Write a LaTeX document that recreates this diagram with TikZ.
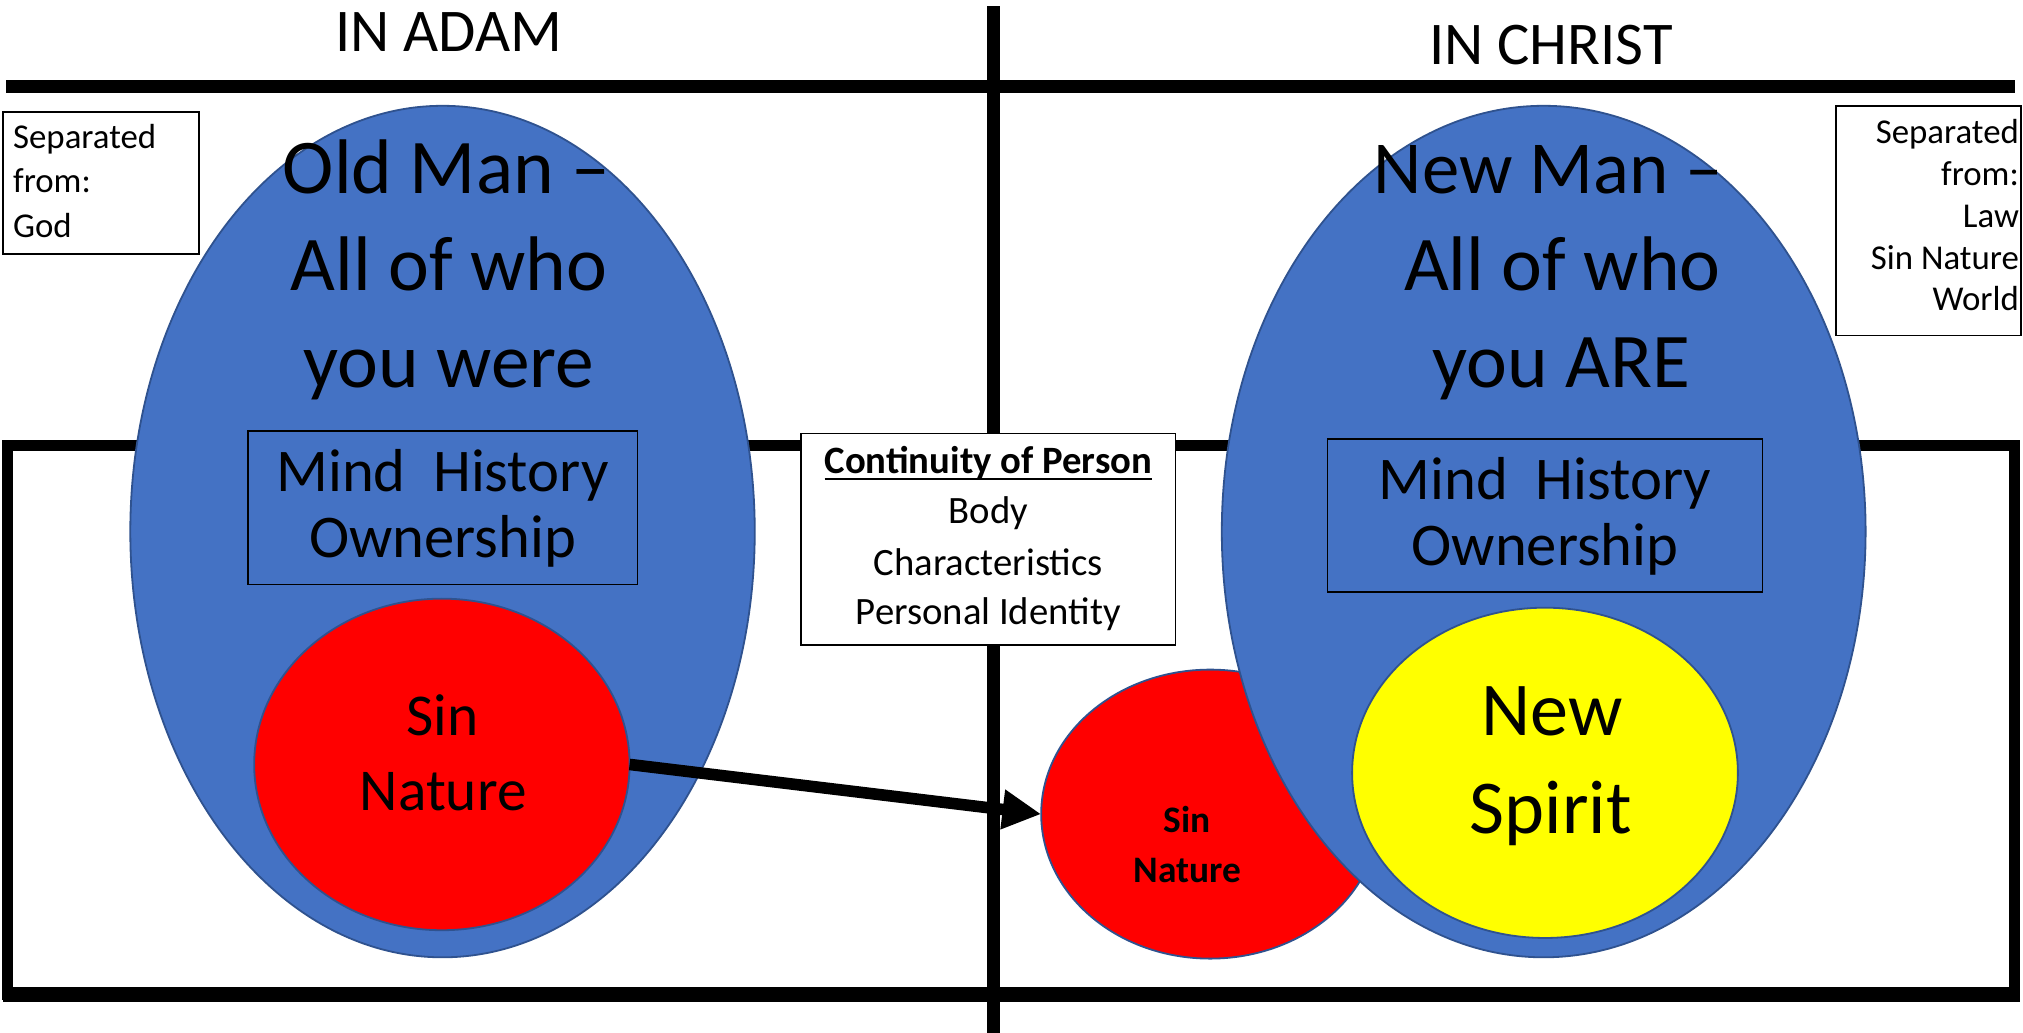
\documentclass[tikz,border=0pt]{standalone}
\usepackage{fontspec}
\setmainfont{Carlito}
\usetikzlibrary{shapes.geometric,arrows.meta}
\definecolor{oblue}{HTML}{4472C4}
\definecolor{oedge}{HTML}{2F528F}
\definecolor{ored}{HTML}{FF0000}
\definecolor{oyellow}{HTML}{FFFF00}
\newcommand\fsz[1]{\fontsize{#1}{#1}\selectfont}
\newcommand\ulbold[1]{\setbox0\hbox{#1}\rlap{\rule[-5pt]{\wd0}{1.8pt}}\box0}
\begin{document}
\begin{tikzpicture}[x=1pt,y=-1pt,
  bar/.style={line width=9.5pt,draw=black},
  oval/.style={ellipse,draw=oedge,line width=1.4pt,inner sep=0pt,outer sep=0pt},
  mhbox/.style={rectangle,draw=black,line width=1.3pt,inner sep=0pt},
  wbox/.style={rectangle,draw=black,line width=1.3pt,fill=white,inner sep=0pt},
  txt/.style={anchor=base,inner sep=0pt},
  txtl/.style={anchor=base west,inner sep=0pt},
  txtr/.style={anchor=base east,inner sep=0pt},
  conn/.style={line width=9pt,draw=black,-{Triangle[length=30pt,width=29pt]}}
]
\path[fill=white] (0,0) rectangle (1568,800.6);
\useasboundingbox (0,0) rectangle (1568,800.6);

% frame lines
\coordinate (tl) at (5,67);
\coordinate (tr) at (1562,67);
\coordinate (vt) at (770,5);
\coordinate (vb) at (770,801);
\coordinate (fa) at (6,345);
\coordinate (fb) at (1561.5,771);
\coordinate (bl) at (2,771);
\coordinate (br) at (1565.5,771);
\draw[bar] (tl) -- (tr);
\draw[bar] (vt) -- (vb);
\draw[line width=8.5pt] (fa) rectangle (fb);
\draw[line width=12pt] (bl) -- (br);

% left side
\node[oval,fill=oblue,minimum width=484pt,minimum height=660pt] (lblue) at (343,412) {};
\node[mhbox,minimum width=302pt,minimum height=119pt] (lmind) at (343,393.5) {};
\node[oval,fill=ored,minimum width=291pt,minimum height=257pt] (lred) at (342.5,592.5) {};

% right side
\node[oval,fill=ored,minimum width=262pt,minimum height=224pt] (rred) at (938,631) {};
\node[oval,fill=oblue,minimum width=499pt,minimum height=660pt] (rblue) at (1196.5,412) {};
\node[mhbox,minimum width=337pt,minimum height=119pt] (rmind) at (1197.5,399.5) {};
\node[oval,fill=oyellow,minimum width=299pt,minimum height=256pt] (yel) at (1197.5,599) {};

% middle box
\node[wbox,minimum width=290pt,minimum height=164pt] (cont) at (766,418) {};

% arrow
\draw[conn] (lred.east) -- (rred.west);

% small boxes
\node[wbox,minimum width=151.5pt,minimum height=110pt] (lsep) at (78.25,142) {};
\node[wbox,minimum width=143.5pt,minimum height=178pt] (rsep) at (1494.75,171) {};

% headings
\node[txt,font=\fsz{47}] (hadam) at (348,40) {IN ADAM};
\node[txt,font=\fsz{47}] (hchrist) at (1202,50) {IN CHRIST};

% old man
\node[txt,font=\fsz{60}] (om1) at (346,150) {Old Man --};
\node[txt,font=\fsz{60}] (om2) at (348,225) {All of who};
\node[txt,font=\fsz{60}] (om3) at (348,300) {you were};

% new man
\node[txt,font=\fsz{58}] (nm1) at (1200,150) {New Man --};
\node[txt,font=\fsz{60}] (nm2) at (1211,225) {All of who};
\node[txt,font=\fsz{60}] (nm3) at (1210,300) {you ARE};

% mind history
\node[txt,font=\fsz{47}] (lm1) at (343,381) {Mind\ \ History};
\node[txt,font=\fsz{47}] (lm2) at (343,432) {Ownership};
\node[txt,font=\fsz{47}] (rm1) at (1197.5,387) {Mind\ \ History};
\node[txt,font=\fsz{47}] (rm2) at (1197.5,438) {Ownership};

% sin nature
\node[txt,font=\fsz{46}] (ls1) at (343,570) {Sin};
\node[txt,font=\fsz{46}] (ls2) at (343.5,628) {Nature};
\node[txt,font=\fsz{29}\bfseries] (rs1) at (920,645) {Sin};
\node[txt,font=\fsz{29}\bfseries] (rs2) at (920.5,684) {Nature};

% new spirit
\node[txt,font=\fsz{59}] (ns1) at (1203,570) {New};
\node[txt,font=\fsz{59}] (ns2) at (1202,646) {Spirit};

% continuity
\node[txt,font=\fsz{30}\bfseries] (c1) at (766,367) {\ulbold{Continuity of Person}};
\node[txt,font=\fsz{30}] (c2) at (766,406) {Body};
\node[txt,font=\fsz{30}] (c3) at (766,446) {Characteristics};
\node[txt,font=\fsz{30}] (c4) at (766,484) {Personal Identity};

% separated boxes
\node[txtl,font=\fsz{27}] (l1) at (10,115) {Separated};
\node[txtl,font=\fsz{27}] (l2) at (10,149) {from:};
\node[txtl,font=\fsz{27}] (l3) at (10,184) {God};
\node[txtr,font=\fsz{27}] (r1) at (1565,111) {Separated};
\node[txtr,font=\fsz{27}] (r2) at (1565,143.5) {from:};
\node[txtr,font=\fsz{27}] (r3) at (1565,176) {Law};
\node[txtr,font=\fsz{27}] (r4) at (1565,208.5) {Sin Nature};
\node[txtr,font=\fsz{27}] (r5) at (1565,241) {World};
\end{tikzpicture}
\end{document}
